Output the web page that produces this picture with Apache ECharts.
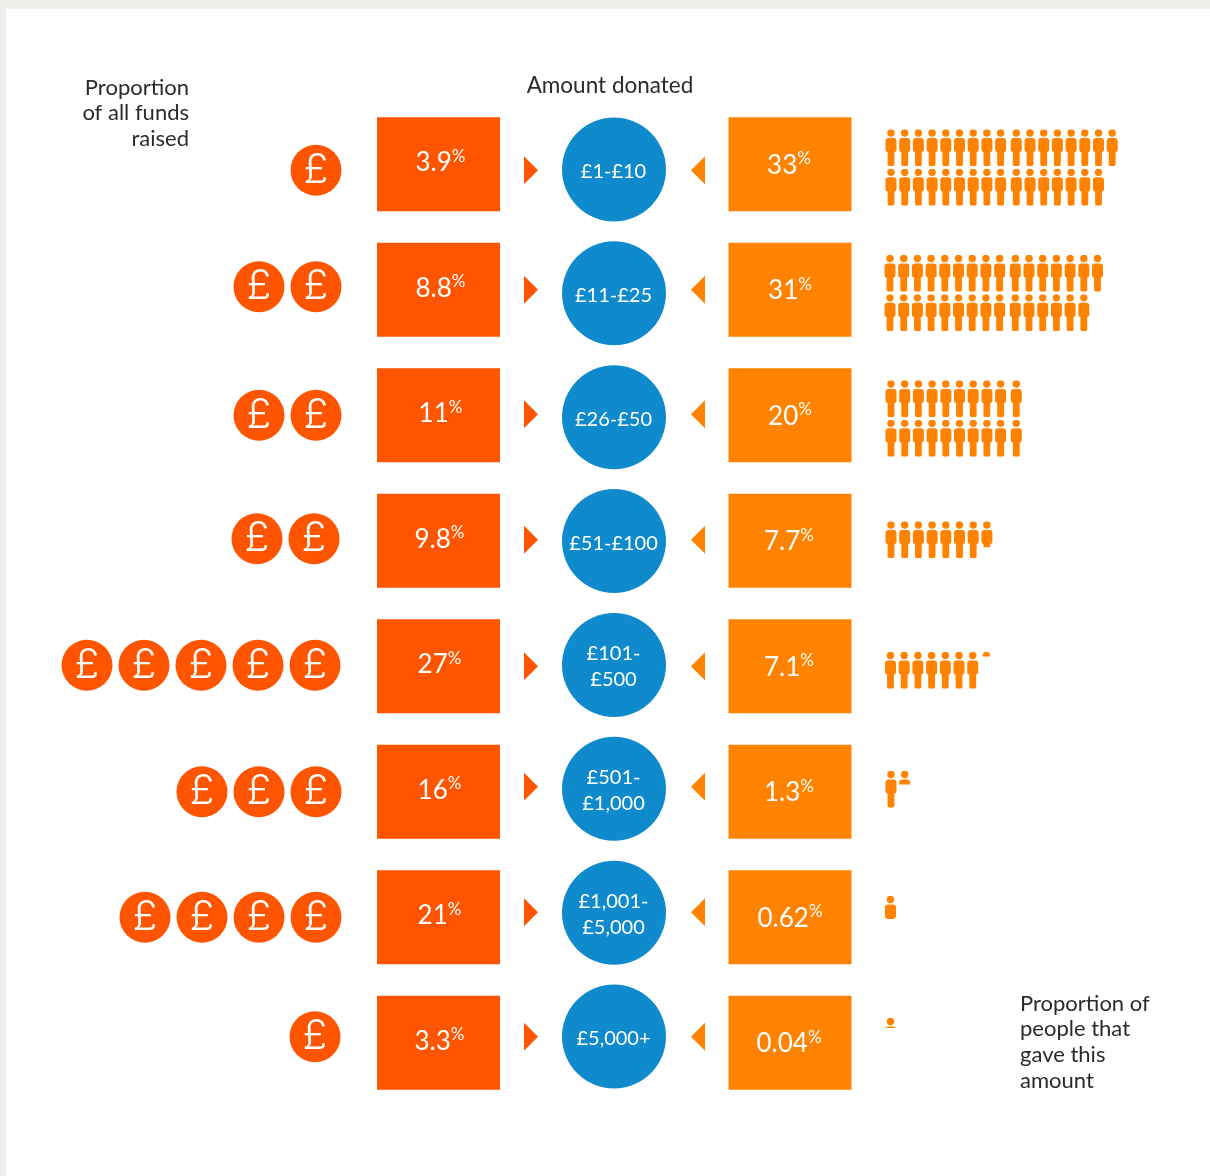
<!DOCTYPE html>
<html lang="en">
<head>
    <meta charset="UTF-8">
    <title>Amount donated</title>
    <style>
        * { padding: 0; margin: 0; }
        html, body { width: 1210px; height: 1176px; background: #efefeb; overflow: hidden; }
        #panel { position: absolute; left: 6px; top: 9px; width: 1204px; height: 1167px; background: #fff; }
        #main { position: absolute; left: 0; top: 0; width: 1210px; height: 1176px; }
    </style>
    <script src="https://cdn.jsdelivr.net/npm/echarts@6/dist/echarts.min.js"></script>
</head>
<body>
    <div id="panel"></div>
    <div id="main"></div>
    <script>
        // data
        var amounts = ['£1-£10', '£11-£25', '£26-£50', '£51-£100', '£101-\n£500', '£501-\n£1,000', '£1,001-\n£5,000', '£5,000+'];
        var fundsPct = ['3.9', '8.8', '11', '9.8', '27', '16', '21', '3.3'];
        var peoplePct = ['33', '31', '20', '7.7', '7.1', '1.3', '0.62', '0.04'];
        var coinCounts = [1, 2, 2, 2, 5, 3, 4, 1];
        // how much of the people are actually drawn (small slivers are exaggerated in the original)
        var figuresShown = [33, 31, 20, 7.7, 7.13, 1.37, 0.63, 0.28];

        // layout, pixels
        var FONT = 'Lato';
        var RED = '#ff5500', ORANGE = '#ff8300', BLUE = '#0f8acd', INK = '#2b2b2b';
        var fundsX = 438.5, peopleBoxX = 790, circleX = 614, arrowRightX = 531, arrowLeftX = 698;
        var coinRightX = 316, coinPitch = 57, coinR = 25.5;
        var figureX = 891, figurePitch = 13.7, figureH = 37, rowGap = 39.4;
        var coinNudgeX = [0, 0, 0, -2, -1, 0, 0, -1];
        var coinNudgeY = [6, -3, 0, -2, -1, 0, 0, -6];
        var arrowNudgeY = [6, 0, -1, -1, 0, -5, -5, -6];
        var figureNudgeX = [0, -1, 0, 0, -0.5, 0, -0.5, -0.5];
        var figureTopY = [-35, -35, -35, -19.5, -14.5, -21, -21.5, -25];
        var fundsLabelX = [2, 2, 2, 1, 1, 1, 1, 1];
        var peopleLabelX = [-1, 0, 0, -1, -1, -1, 0, -1];

        function pctLabel(v) {
            return '{num|' + v + '}{sup|%}';
        }

        function pctRich() {
            return {
                num: { fontFamily: FONT, fontSize: 26, color: '#fff', lineHeight: 30 },
                sup: { fontFamily: FONT, fontSize: 17, color: '#fff', verticalAlign: 'top', lineHeight: 30, padding: [0, 0, 7, 0] }
            };
        }

        function rowsAt(x) {
            return amounts.map(function (name, i) {
                return [x, i];
            });
        }

        function renderCoins(params, api) {
            var i = params.dataIndex;
            var pos = api.coord([coinRightX + coinNudgeX[i], i]);
            var kids = [];
            for (var n = 0; n < coinCounts[i]; n++) {
                var cx = pos[0] - n * coinPitch, cy = pos[1] + coinNudgeY[i];
                kids.push({ type: 'circle', shape: { cx: cx, cy: cy, r: coinR }, style: { fill: RED } });
                kids.push({
                    type: 'text',
                    style: {
                        text: '£', x: cx, y: cy, fill: '#fff', font: '300 41px Inter',
                        textAlign: 'center', textVerticalAlign: 'middle', verticalAlign: 'middle', align: 'center'
                    }
                });
            }
            return { type: 'group', children: kids };
        }

        function figure(x, y, share) {
            return {
                type: 'group',
                x: x,
                y: y,
                clipPath: { type: 'rect', shape: { x: -8, y: 0, width: 16, height: figureH * share } },
                children: [
                    { type: 'circle', shape: { cx: 0, cy: 3.7, r: 3.7 }, style: { fill: ORANGE } },
                    { type: 'rect', shape: { x: -5.5, y: 8.7, width: 11, height: 14.3, r: 3 }, style: { fill: ORANGE } },
                    { type: 'rect', shape: { x: -3.4, y: 16, width: 6.8, height: figureH - 16, r: 2 }, style: { fill: ORANGE } }
                ]
            };
        }

        function renderPeople(params, api) {
            var i = params.dataIndex;
            var pos = api.coord([figureX + figureNudgeX[i], i]);
            var top = pos[1] + figureTopY[i];
            var shown = figuresShown[i];
            var whole = Math.ceil(shown);
            // big groups wrap on two lines, first line takes the odd one
            var firstLine = whole > 17 ? Math.ceil(whole / 2) : whole;
            var kids = [];
            for (var n = 0; n < whole; n++) {
                var line = n < firstLine ? 0 : 1;
                var col = line ? n - firstLine : n;
                var gap = col > 8 ? 2 : 0; // small break after the ninth figure
                var share = n === whole - 1 && shown < whole ? shown - Math.floor(shown) : 1;
                kids.push(figure(pos[0] + col * figurePitch + gap, top + line * rowGap, share));
            }
            return { type: 'group', children: kids };
        }

        var myChart = echarts.init(document.getElementById('main'), null, { renderer: 'canvas' });

        function hiddenX(gridIndex) {
            return { type: 'value', gridIndex: gridIndex, min: 0, max: 1210, show: false };
        }

        function hiddenY(gridIndex) {
            return { type: 'category', gridIndex: gridIndex, data: amounts, inverse: true, show: false };
        }

        var option = {
            animation: false,
            backgroundColor: 'transparent',
            title: [
                { text: 'Proportion\nof all funds\nraised', left: 189, top: 75, padding: 0, textAlign: 'right',
                    textStyle: { fontFamily: FONT, fontSize: 22, fontWeight: 'normal', color: INK, lineHeight: 25.5, align: 'right' } },
                { text: 'Amount donated', left: 610, top: 73, padding: 0, textAlign: 'center',
                    textStyle: { fontFamily: FONT, fontSize: 22.5, fontWeight: 'normal', color: INK, lineHeight: 25.5 } },
                { text: 'Proportion of\npeople that\ngave this\namount', left: 1020, top: 991, padding: 0,
                    textStyle: { fontFamily: FONT, fontSize: 22, fontWeight: 'normal', color: INK, lineHeight: 25.6 } }
            ],
            // boxes, coins, arrows and figures sit on rows of 125.5px, the circles on rows of 124px
            grid: [
                { left: 0, right: 0, top: 101.5, height: 1004 },
                { left: 0, right: 0, top: 107.5, height: 991 }
            ],
            xAxis: [hiddenX(0), hiddenX(1)],
            yAxis: [hiddenY(0), hiddenY(1)],
            series: [
                {
                    type: 'custom', name: 'coins', xAxisIndex: 0, yAxisIndex: 0, silent: true,
                    data: rowsAt(coinRightX), renderItem: renderCoins
                },
                {
                    type: 'scatter', name: 'funds', xAxisIndex: 0, yAxisIndex: 0, silent: true,
                    symbol: 'rect', symbolSize: [123, 94], itemStyle: { color: RED, opacity: 1 },
                    data: rowsAt(fundsX).map(function (d, i) {
                        return {
                            value: d,
                            label: { formatter: pctLabel(fundsPct[i]), offset: [fundsLabelX[i], -1.5] }
                        };
                    }),
                    label: { show: true, position: 'inside', rich: pctRich() }
                },
                {
                    type: 'scatter', name: 'people', xAxisIndex: 0, yAxisIndex: 0, silent: true,
                    symbol: 'rect', symbolSize: [123, 94], itemStyle: { color: ORANGE, opacity: 1 },
                    data: rowsAt(peopleBoxX).map(function (d, i) {
                        return {
                            value: d,
                            label: { formatter: pctLabel(peoplePct[i]), offset: [peopleLabelX[i], 1] }
                        };
                    }),
                    label: { show: true, position: 'inside', rich: pctRich() }
                },
                {
                    type: 'scatter', name: 'arrowsRight', xAxisIndex: 0, yAxisIndex: 0, silent: true,
                    symbol: 'triangle', symbolRotate: -90, symbolSize: [28, 14], itemStyle: { color: RED, opacity: 1 },
                    data: rowsAt(arrowRightX).map(function (d, i) {
                        return { value: d, symbolOffset: [0, arrowNudgeY[i]] };
                    })
                },
                {
                    type: 'scatter', name: 'arrowsLeft', xAxisIndex: 0, yAxisIndex: 0, silent: true,
                    symbol: 'triangle', symbolRotate: 90, symbolSize: [28, 14], itemStyle: { color: ORANGE, opacity: 1 },
                    data: rowsAt(arrowLeftX).map(function (d, i) {
                        return { value: d, symbolOffset: [0, arrowNudgeY[i]] };
                    })
                },
                {
                    type: 'custom', name: 'figures', xAxisIndex: 0, yAxisIndex: 0, silent: true,
                    data: rowsAt(figureX), renderItem: renderPeople
                },
                {
                    type: 'scatter', name: 'amounts', xAxisIndex: 1, yAxisIndex: 1, silent: true,
                    symbol: 'circle', symbolSize: 104, itemStyle: { color: BLUE, opacity: 1 },
                    data: rowsAt(circleX),
                    label: {
                        show: true, position: 'inside', color: '#fff', fontFamily: FONT, fontSize: 20, lineHeight: 26,
                        offset: [-0.5, 2],
                        formatter: function (p) {
                            return amounts[p.dataIndex];
                        }
                    }
                }
            ]
        };

        myChart.setOption(option);
    </script>
</body>
</html>
